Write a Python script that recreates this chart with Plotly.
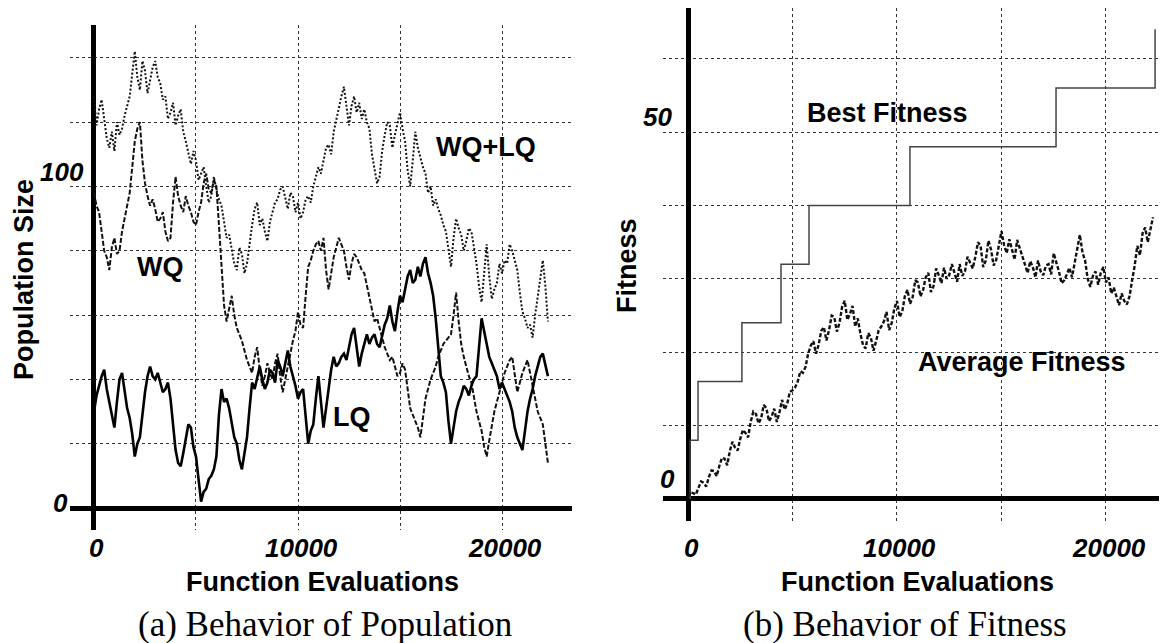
import plotly.graph_objects as go

# ---------------- data ----------------
# function evaluations, 0 .. 22250 every 125
pop_evals = list(range(0, 22251, 125))
fit_evals = list(range(0, 22251, 125))

wq_lq = [128, 119, 124, 127, 121, 115, 112, 117, 111, 120, 116, 118, 122, 125, 128, 135,
         142, 134, 130, 139, 136, 129, 133, 137, 139, 134, 132, 127, 128, 121, 123, 126,
         119, 122, 124, 117, 114, 110, 107, 111, 108, 102, 104, 106, 100, 95, 97, 103,
         99, 96, 94, 89, 84, 85, 80, 76, 74, 81, 79, 73, 76, 83, 88, 93,
         95, 88, 90, 86, 83, 89, 92, 95, 96, 99, 100, 96, 93, 98, 97, 92,
         95, 90, 92, 96, 97, 95, 100, 103, 106, 104, 108, 112, 113, 110, 117, 121,
         124, 128, 131, 124, 119, 125, 128, 123, 126, 121, 124, 120, 118, 110, 106, 101,
         103, 111, 116, 120, 119, 112, 116, 120, 123, 118, 114, 105, 100, 108, 117, 112,
         109, 106, 104, 98, 100, 94, 96, 93, 91, 88, 86, 80, 75, 84, 90, 87,
         85, 80, 83, 87, 86, 81, 76, 69, 64, 73, 82, 72, 65, 68, 70, 76,
         73, 77, 76, 82, 80, 77, 74, 67, 61, 59, 56, 57, 53, 60, 66, 72,
         77, 69, 58]

wq = [98, 94, 92, 85, 80, 78, 74, 81, 84, 79, 80, 86, 90, 93, 98, 106,
      114, 118, 120, 108, 101, 97, 94, 96, 93, 89, 90, 92, 86, 83, 84, 95,
      103, 97, 94, 92, 97, 94, 92, 89, 88, 92, 95, 101, 104, 99, 98, 102,
      100, 88, 75, 63, 58, 62, 66, 60, 56, 54, 52, 49, 46, 44, 42, 47,
      50, 43, 38, 41, 45, 42, 40, 45, 48, 41, 36, 40, 44, 49, 52, 55,
      61, 57, 56, 66, 75, 77, 80, 82, 83, 80, 84, 74, 68, 73, 78, 81,
      84, 82, 80, 75, 71, 76, 79, 78, 76, 74, 73, 69, 65, 61, 58, 59,
      56, 53, 50, 48, 46, 47, 44, 41, 42, 45, 43, 37, 31, 29, 27, 25,
      22, 28, 34, 37, 40, 42, 44, 47, 49, 51, 52, 53, 54, 60, 67, 58,
      51, 47, 44, 41, 39, 34, 30, 27, 24, 19, 16, 21, 26, 30, 33, 36,
      39, 42, 44, 46, 47, 41, 36, 39, 42, 44, 46, 42, 38, 34, 30, 28,
      26, 20, 14]

lq = [30, 35, 38, 41, 43, 37, 33, 29, 25, 33, 40, 42, 37, 31, 28, 23,
      16, 20, 22, 30, 36, 41, 44, 41, 40, 42, 39, 36, 37, 39, 34, 25,
      18, 14, 13, 17, 22, 26, 25, 19, 16, 8, 2, 5, 6, 9, 10, 12,
      16, 29, 37, 33, 34, 31, 27, 22, 20, 15, 12, 17, 22, 31, 39, 37,
      41, 44, 40, 37, 39, 43, 42, 39, 46, 44, 41, 45, 49, 44, 41, 38,
      34, 36, 37, 28, 20, 24, 26, 34, 41, 33, 25, 31, 37, 43, 47, 44,
      45, 47, 48, 46, 50, 54, 56, 49, 44, 48, 51, 54, 51, 53, 54, 51,
      50, 54, 57, 59, 63, 58, 55, 61, 66, 64, 68, 72, 74, 70, 71, 75,
      72, 76, 78, 73, 70, 66, 59, 49, 41, 39, 36, 27, 20, 25, 30, 33,
      35, 38, 37, 35, 38, 40, 41, 50, 59, 55, 51, 47, 45, 43, 41, 37,
      39, 37, 35, 33, 30, 25, 22, 20, 18, 24, 30, 34, 37, 41, 44, 47,
      48, 44, 41]

avg_fitness = [0.3, 0.9, 0.8, 0.6, 1.5, 2.4, 2.2, 1.7, 3.0, 3.9, 3.8, 3.1, 4.5, 5.6, 5.5, 4.6,
               6.5, 7.8, 7.0, 6.6, 8.2, 9.4, 9.0, 8.4, 10.5, 11.9, 11.6, 10.3, 11.0, 12.8, 12.4, 10.6,
               11.2, 12.3, 10.5, 11.8, 13.5, 12.2, 13.0, 14.6, 14.8, 15.2, 16.0, 17.4, 17.2, 18.0, 19.8, 20.9,
               21.5, 19.8, 21.0, 22.9, 23.4, 21.6, 23.0, 25.0, 24.8, 22.8, 24.0, 26.2, 27.0, 24.4, 25.2, 26.3,
               23.5, 24.6, 22.5, 21.0, 20.5, 22.6, 22.0, 20.2, 21.5, 23.0, 23.5, 24.2, 25.5, 23.0, 24.0, 26.0,
               27.0, 24.8, 25.5, 27.6, 28.5, 26.6, 27.5, 29.8, 29.5, 27.6, 28.5, 30.2, 30.8, 28.2, 29.0, 31.4,
               30.5, 29.4, 31.5, 30.0, 30.5, 32.0, 30.8, 29.6, 32.0, 30.4, 31.0, 33.0, 32.2, 31.4, 33.0, 35.0,
               34.5, 31.6, 32.5, 35.2, 34.0, 31.8, 32.6, 34.4, 36.5, 34.6, 33.5, 35.4, 34.0, 32.6, 35.3, 34.2,
               33.0, 31.8, 30.8, 32.4, 31.6, 30.2, 32.5, 31.0, 30.5, 31.8, 32.0, 30.6, 33.5, 32.2, 31.0, 29.4,
               29.8, 30.6, 31.5, 30.2, 32.0, 33.8, 36.0, 33.6, 32.5, 30.0, 28.9, 30.4, 31.0, 29.2, 30.8, 31.6,
               29.5, 30.2, 28.0, 28.8, 27.5, 26.4, 28.0, 27.0, 26.5, 27.6, 29.8, 31.8, 34.5, 33.2, 36.2, 37.0,
               35.0, 36.6, 38.4]

best_evals = [100, 100, 480, 2580, 4450, 5790, 10620, 17610, 22350]
best_fitness = [0, 8, 16, 24, 32, 40, 48, 56, 64]

x_tick_vals = [0, 10000, 20000]
x_tick_text = ["0", "10000", "20000"]
pop_y_tick_vals = [0, 100]
pop_y_tick_text = ["0", "100"]
fit_y_tick_vals = [0, 50]
fit_y_tick_text = ["0", "50"]

assert len(wq_lq) == len(pop_evals) == len(wq) == len(lq) == len(avg_fitness)

# ---------------- figure ----------------
# the page body has an 8px margin, so the figure is 8px smaller than the window
OFF = 8
W, H = 1167 - OFF, 643 - OFF
SANS = "Liberation Sans, Arial, sans-serif"
SERIF = "Liberation Serif, Times New Roman, serif"


def px(p):
    return (p - OFF) / W


def py(p):
    return 1 - (p - OFF) / H


fig = go.Figure()
fig.add_trace(go.Scatter(x=pop_evals, y=wq_lq, mode="lines", name="WQ+LQ",
                         line=dict(color="#111", width=2.0, dash="2px,2px"),
                         xaxis="x", yaxis="y"))
fig.add_trace(go.Scatter(x=pop_evals, y=wq, mode="lines", name="WQ",
                         line=dict(color="#111", width=2.0, dash="5px,2px"),
                         xaxis="x", yaxis="y"))
fig.add_trace(go.Scatter(x=pop_evals, y=lq, mode="lines", name="LQ",
                         line=dict(color="#000", width=2.6),
                         xaxis="x", yaxis="y"))
fig.add_trace(go.Scatter(x=best_evals, y=best_fitness, mode="lines", name="Best Fitness",
                         line=dict(color="#444", width=1.5, shape="hv"),
                         xaxis="x2", yaxis="y2"))
fig.add_trace(go.Scatter(x=fit_evals, y=avg_fitness, mode="lines", name="Average Fitness",
                         line=dict(color="#111", width=2.4, dash="4px,2px"),
                         xaxis="x2", yaxis="y2"))

grid = dict(showgrid=True, gridcolor="#333", gridwidth=1, griddash="3px,3px",
            showticklabels=False, ticks="", showline=False,
            zeroline=True, zerolinecolor="#000", zerolinewidth=4.5, fixedrange=True)

fig.update_layout(
    width=W, height=H,
    margin=dict(l=0, r=0, t=0, b=0),
    paper_bgcolor="white", plot_bgcolor="white",
    showlegend=False,
    xaxis=dict(domain=[px(70), px(572)], range=[-1176, 23431], dtick=5000, tick0=0,
               anchor="y", **grid),
    yaxis=dict(domain=[py(530), py(25)], range=[-6.84, 150.2], dtick=20, tick0=0,
               anchor="x", **grid),
    xaxis2=dict(domain=[px(663), 1.0], range=[-1196, 22920], dtick=5000, tick0=0,
                anchor="y2", **grid),
    yaxis2=dict(domain=[py(521), 1.0], range=[-3.0, 66.9], dtick=10, tick0=0,
                anchor="x2", **grid),
)

ann = []
tick_font = dict(family=SANS, size=26, color="#000", weight="bold", style="italic")
lab_font = dict(family=SANS, size=27, color="#000", weight="bold")


def note(text, cx, cy, font, **kw):
    d = dict(x=px(cx), y=py(cy), xref="paper", yref="paper", text=text,
             showarrow=False, font=font, xanchor="center", yanchor="middle")
    d.update(kw)
    return d


for v, t in zip(x_tick_vals, x_tick_text):
    for xr in ("x", "x2"):
        ann.append(dict(x=v, xref=xr, y=py(548), yref="paper", text=t, showarrow=False,
                        font=tick_font, xanchor="center", yanchor="middle", xshift=3))

pop_y_pos = {0: (60, 503), 100: (62, 172)}
for v, t in zip(pop_y_tick_vals, pop_y_tick_text):
    ann.append(note(t, *pop_y_pos[v], tick_font))
fit_y_pos = {0: (667, 479), 50: (658, 117)}
for v, t in zip(fit_y_tick_vals, fit_y_tick_text):
    ann.append(note(t, *fit_y_pos[v], tick_font))

# axis titles
ann.append(note("Population Size", 24, 280, lab_font, textangle=-90))
ann.append(note("Fitness", 627, 266, lab_font, textangle=-90))
ann.append(note("Function Evaluations", 322, 582, lab_font))
ann.append(note("Function Evaluations", 917, 582, lab_font))

# series labels
for text, cx, cy in [("WQ+LQ", 486, 147), ("WQ", 160, 267), ("LQ", 352, 417),
                     ("Best Fitness", 887, 113), ("Average Fitness", 1022, 362)]:
    ann.append(note(text, cx, cy, lab_font))

# captions
cap_font = dict(family=SERIF, size=35, color="#000")
ann.append(note("(a) Behavior of Population", 325, 624, cap_font))
ann.append(note("(b) Behavior of Fitness", 905, 624, cap_font))

fig.update_layout(annotations=ann)
fig.write_html("out.html")
